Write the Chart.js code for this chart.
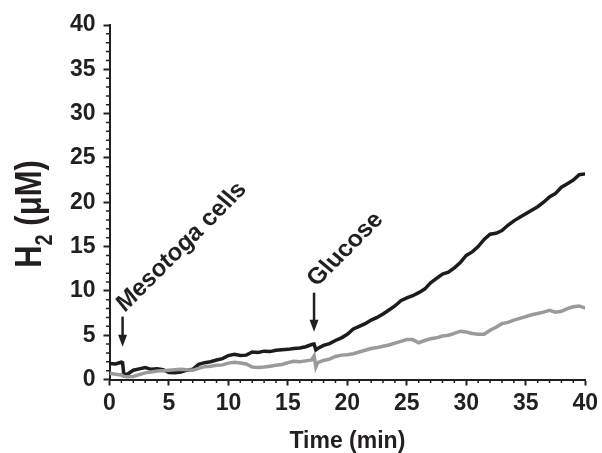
<!DOCTYPE html>
<html>
<head>
<meta charset="utf-8">
<script src="https://cdn.jsdelivr.net/npm/chart.js@4.4.1/dist/chart.umd.min.js"></script>
<style>
  html, body { margin: 0; padding: 0; background: #fff; }
  canvas { display: block; }
</style>
</head>
<body>
<canvas id="h2Chart" width="602" height="453"></canvas>
<script>
// time points (min)
const times = [0, 0.5, 1.0, 1.1, 1.2, 1.5, 2, 2.5, 3, 3.5, 4, 4.5, 5, 5.5, 6, 6.5, 7, 7.5, 8, 8.5,
  9, 9.5, 10, 10.5, 11, 11.5, 12, 12.5, 13, 13.5, 14, 14.5, 15, 15.5, 16, 16.5, 17, 17.2, 17.35, 17.5,
  18, 18.5, 19, 19.5, 20, 20.5, 21, 21.5, 22, 22.5, 23, 23.5, 24, 24.5, 25, 25.5, 26, 26.5, 27, 27.5,
  28, 28.5, 29, 29.5, 30, 30.5, 31, 31.5, 32, 32.5, 33, 33.5, 34, 34.5, 35, 35.5, 36, 36.5, 37, 37.5,
  38, 38.5, 39, 39.5, 40];

// H2 with glucose (black trace)
const blackTrace = [1.8, 1.75, 1.95, 1.9, 0.6, 0.6, 1.05, 1.2, 1.35, 1.15, 1.2, 1.1, 0.8, 0.75, 0.85, 1.05, 1.15, 1.7, 1.9, 2.0,
  2.2, 2.35, 2.7, 2.85, 2.7, 2.75, 3.1, 3.05, 3.2, 3.15, 3.3, 3.35, 3.4, 3.5, 3.55, 3.7, 3.95, 4.0, 3.35, 3.5,
  3.85, 4.05, 4.4, 4.7, 5.1, 5.7, 6.0, 6.3, 6.7, 7.0, 7.4, 7.85, 8.3, 8.9, 9.2, 9.45, 9.8, 10.2, 10.9, 11.4,
  11.9, 12.1, 12.6, 13.2, 14.0, 14.4, 15.0, 15.8, 16.4, 16.5, 16.8, 17.4, 17.9, 18.3, 18.7, 19.1, 19.5, 20.0, 20.6, 21.0,
  21.7, 22.1, 22.5, 23.1, 23.2];

// control trace (grey)
const greyTrace = [0.7, 0.6, 0.5, 0.45, 0.35, 0.3, 0.35, 0.55, 0.75, 0.85, 0.95, 1.0, 1.05, 1.1, 1.15, 1.1, 1.05, 1.25, 1.45, 1.5,
  1.6, 1.65, 1.85, 1.95, 1.85, 1.75, 1.4, 1.35, 1.4, 1.5, 1.6, 1.7, 1.9, 2.05, 2.0, 2.1, 2.2, 2.65, 1.4, 1.9,
  2.15, 2.3, 2.6, 2.75, 2.8, 2.9, 3.1, 3.3, 3.5, 3.6, 3.75, 3.9, 4.1, 4.3, 4.5, 4.5, 4.15, 4.4, 4.6, 4.7,
  4.9, 5.0, 5.2, 5.45, 5.35, 5.2, 5.1, 5.1, 5.55, 5.9, 6.3, 6.45, 6.7, 6.9, 7.1, 7.3, 7.45, 7.6, 7.8, 7.6,
  7.7, 8.0, 8.2, 8.3, 8.05];

// annotation arrows: label parts (italic, upright), time, arrow top, arrow tip, text baseline
const events = [
  { label: ['Mesotoga', ' cells'], t: 1.1, top: 7.1, tip: 3.7, textY: 7.6 },
  { label: ['', 'Glucose'], t: 17.2, top: 9.8, tip: 5.4, textY: 10.4 }
];

const ink = '#231f20';
const fontFam = '"Liberation Sans", Arial, Helvetica, sans-serif';

function toPoints(arr) {
  return arr.map((v, i) => ({ x: times[i], y: v }));
}

const extrasPlugin = {
  id: 'extras',
  afterDraw(chart) {
    const ctx = chart.ctx;
    const xs = chart.scales.x, ys = chart.scales.y;
    const area = chart.chartArea;
    ctx.save();
    // minor ticks every 1 unit
    ctx.strokeStyle = ink;
    ctx.lineWidth = 1.5;
    ctx.beginPath();
    for (let v = 1; v < 40; v++) {
      if (v % 5 === 0) continue;
      const px = xs.getPixelForValue(v);
      ctx.moveTo(px, area.bottom);
      ctx.lineTo(px, area.bottom + 3.5);
      const py = ys.getPixelForValue(v);
      ctx.moveTo(area.left, py);
      ctx.lineTo(area.left - 3.5, py);
    }
    ctx.stroke();

    // arrows + labels
    ctx.fillStyle = ink;
    const stretch = 1.1;
    const ang = Math.atan(stretch);
    events.forEach(ev => {
      const px = xs.getPixelForValue(ev.t);
      const pTop = ys.getPixelForValue(ev.top);
      const pTip = ys.getPixelForValue(ev.tip);
      ctx.lineWidth = 2.5;
      ctx.beginPath();
      ctx.moveTo(px, pTop);
      ctx.lineTo(px, pTip - 10);
      ctx.stroke();
      ctx.beginPath();
      ctx.moveTo(px - 4.5, pTip - 12);
      ctx.lineTo(px + 4.5, pTip - 12);
      ctx.lineTo(px, pTip);
      ctx.closePath();
      ctx.fill();

      ctx.save();
      ctx.translate(px + 3, ys.getPixelForValue(ev.textY));
      ctx.scale(stretch, 1);
      ctx.rotate(-ang);
      ctx.textAlign = 'left';
      ctx.textBaseline = 'alphabetic';
      let off = 0;
      if (ev.label[0]) {
        ctx.font = 'italic bold 23px ' + fontFam;
        ctx.fillText(ev.label[0], 0, 0);
        off = ctx.measureText(ev.label[0]).width;
      }
      ctx.font = 'bold 23px ' + fontFam;
      ctx.fillText(ev.label[1], off, 0);
      ctx.restore();
    });

    // y axis title with subscript
    ctx.save();
    ctx.translate(41, 214);
    ctx.scale(1.2, 1);
    ctx.rotate(-Math.PI / 2);
    const big = 'bold 31px ' + fontFam;
    const small = 'bold 20px ' + fontFam;
    ctx.font = big;
    const wH = ctx.measureText('H').width;
    const wRest = ctx.measureText(' (μM)').width;
    ctx.font = small;
    const w2 = ctx.measureText('2').width;
    const x0 = -(wH + w2 + wRest) / 2;
    ctx.textBaseline = 'alphabetic';
    ctx.textAlign = 'left';
    ctx.font = big;
    ctx.fillText('H', x0, 0);
    ctx.font = small;
    ctx.fillText('2', x0 + wH, 9);
    ctx.font = big;
    ctx.fillText(' (μM)', x0 + wH + w2, 0);
    ctx.restore();

    ctx.restore();
  }
};

new Chart(document.getElementById('h2Chart'), {
  type: 'line',
  data: {
    datasets: [
      {
        label: 'control',
        data: toPoints(greyTrace),
        borderColor: '#9a9a9a',
        borderWidth: 3.5,
        pointRadius: 0,
        tension: 0
      },
      {
        label: 'glucose',
        data: toPoints(blackTrace),
        borderColor: '#1d1b1c',
        borderWidth: 3.5,
        pointRadius: 0,
        tension: 0
      }
    ]
  },
  options: {
    responsive: false,
    animation: false,
    devicePixelRatio: 1,
    layout: { padding: { left: 0, right: 14, top: 25, bottom: 0 } },
    plugins: {
      legend: { display: false },
      tooltip: { enabled: false }
    },
    scales: {
      x: {
        type: 'linear',
        min: 0,
        max: 40,
        afterFit(scale) { scale.height = 73.5; },
        ticks: {
          stepSize: 5,
          color: ink,
          padding: 4,
          maxRotation: 0,
          font: { family: fontFam, size: 23, weight: 'bold' }
        },
        grid: {
          drawOnChartArea: false,
          tickLength: 6,
          tickWidth: 2,
          tickColor: ink
        },
        border: { color: ink, width: 2 },
        title: {
          display: true,
          text: 'Time (min)',
          color: ink,
          padding: { top: 0, bottom: 0 },
          font: { family: fontFam, size: 23, weight: 'bold', lineHeight: 1 }
        }
      },
      y: {
        type: 'linear',
        min: 0,
        max: 40,
        afterFit(scale) { scale.width = 109.5; },
        ticks: {
          stepSize: 5,
          color: ink,
          padding: 8,
          font: { family: fontFam, size: 23, weight: 'bold' }
        },
        grid: {
          drawOnChartArea: false,
          tickLength: 6,
          tickWidth: 2,
          tickColor: ink
        },
        border: { color: ink, width: 2 }
      }
    }
  },
  plugins: [extrasPlugin]
});
</script>
</body>
</html>
